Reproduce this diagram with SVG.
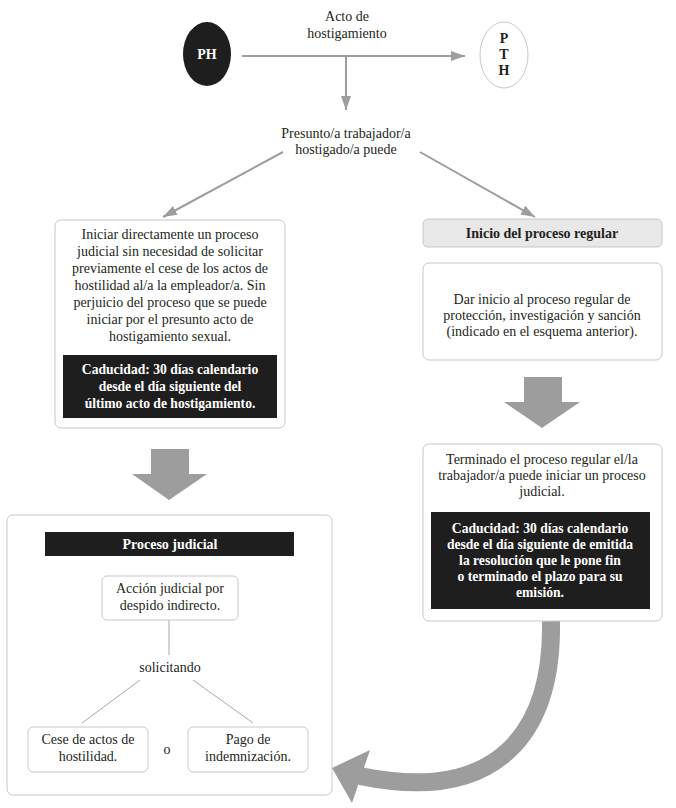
<svg xmlns="http://www.w3.org/2000/svg" width="676" height="808" viewBox="0 0 676 808">
<style>
text{font-family:"Liberation Serif","Times New Roman",serif;font-size:14px;fill:#231f20;text-anchor:middle}
.b{font-weight:bold}
.w{fill:#ffffff;font-weight:bold}
.cad{font-size:13.6px}
.box{fill:#ffffff;stroke:#c8c8c8;stroke-width:1}
.blk{fill:#1e1e1e}
.ln{stroke:#9d9d9d;stroke-width:2;fill:none}
.thin{stroke:#a8a8a8;stroke-width:1;fill:none}
.fat{fill:#9d9d9d}
</style>
<defs>
<marker id="ah2" markerWidth="14" markerHeight="10" refX="14" refY="5" orient="auto" markerUnits="userSpaceOnUse" viewBox="0 0 14 10">
<path d="M0,0 L14,5 L0,10 Z" fill="#9d9d9d"/>
</marker>
</defs>

<g id="proceso-judicial">
<rect class="box" x="7" y="515" width="325" height="280" rx="6"/>
<rect class="blk" x="45" y="532" width="249" height="24"/>
<text class="w" x="170" y="549">Proceso judicial</text>
</g>

<g id="connectors">
<line class="ln" x1="242" y1="56" x2="465" y2="56" marker-end="url(#ah2)"/>
<line class="ln" x1="346" y1="56" x2="346" y2="110" marker-end="url(#ah2)"/>
<line class="ln" x1="283" y1="152" x2="163" y2="217" marker-end="url(#ah2)"/>
<line class="ln" x1="420" y1="152" x2="535" y2="217" marker-end="url(#ah2)"/>
<polygon class="fat" points="524,377 562,377 562,402 580,402 542,428 504,402 524,402"/>
<polygon class="fat" points="151,449 189,449 189,474 207,474 169,500 132,474 151,474"/>
<path d="M551,621 C553,730 500,805 360,776" stroke="#9d9d9d" stroke-width="18" fill="none"/>
<polygon class="fat" points="370,750 332,768 352,803"/>
<line class="thin" x1="169" y1="620" x2="169" y2="655"/>
<line class="thin" x1="140" y1="680" x2="82" y2="723"/>
<line class="thin" x1="193" y1="680" x2="253" y2="723"/>
</g>

<g id="ph">
<ellipse cx="207" cy="54" rx="24" ry="32" fill="#1e1e1e"/>
<text class="w" x="207" y="59">PH</text>
</g>

<g id="label-acto">
<text x="347" y="21">Acto de</text>
<text x="347" y="38">hostigamiento</text>
</g>

<g id="pth">
<ellipse cx="504" cy="55" rx="24" ry="33" fill="#ffffff" stroke="#c8c8c8" stroke-width="1"/>
<text class="b" x="504" y="43">P</text>
<text class="b" x="504" y="59">T</text>
<text class="b" x="504" y="75">H</text>
</g>

<g id="presunto">
<text x="346" y="138">Presunto/a trabajador/a</text>
<text x="346" y="154">hostigado/a puede</text>
</g>

<g id="iniciar">
<rect class="box" x="55" y="220" width="230" height="208" rx="6"/>
<text x="170" y="239">Iniciar directamente un proceso</text>
<text x="170" y="256">judicial sin necesidad de solicitar</text>
<text x="170" y="273">previamente el cese de los actos de</text>
<text x="170" y="290">hostilidad al/a la empleador/a. Sin</text>
<text x="170" y="307">perjuicio del proceso que se puede</text>
<text x="170" y="324">iniciar por el presunto acto de</text>
<text x="170" y="341">hostigamiento sexual.</text>
<rect class="blk" x="63" y="355" width="214" height="63"/>
<text class="w cad" x="170" y="374">Caducidad: 30 días calendario</text>
<text class="w cad" x="170" y="391">desde el día siguiente del</text>
<text class="w cad" x="170" y="408">último acto de hostigamiento.</text>
</g>

<g id="inicio-regular">
<rect x="423" y="219" width="239" height="28" rx="5" fill="#e8e8e8" stroke="#c8c8c8" stroke-width="1"/>
<text class="b" x="542" y="238">Inicio del proceso regular</text>
</g>

<g id="dar-inicio">
<rect class="box" x="423" y="263" width="239" height="97" rx="6"/>
<text x="542" y="304">Dar inicio al proceso regular de</text>
<text x="542" y="320">protección, investigación y sanción</text>
<text x="542" y="336">(indicado en el esquema anterior).</text>
</g>

<g id="terminado">
<rect class="box" x="423" y="444" width="239" height="177" rx="6"/>
<text x="542" y="464">Terminado el proceso regular el/la</text>
<text x="542" y="480">trabajador/a puede iniciar un proceso</text>
<text x="542" y="496">judicial.</text>
<rect class="blk" x="431" y="512" width="219" height="97"/>
<text class="w cad" x="540" y="533">Caducidad: 30 días calendario</text>
<text class="w cad" x="540" y="549">desde el día siguiente de emitida</text>
<text class="w cad" x="540" y="565">la resolución que le pone fin</text>
<text class="w cad" x="540" y="581">o terminado el plazo para su</text>
<text class="w cad" x="540" y="597">emisión.</text>
</g>

<g id="accion">
<rect class="box" x="102" y="576" width="136" height="44" rx="5"/>
<text x="170" y="593">Acción judicial por</text>
<text x="170" y="610">despido indirecto.</text>
</g>

<g id="solicitando">
<text x="170" y="672">solicitando</text>
</g>

<g id="cese">
<rect class="box" x="28" y="727" width="120" height="45" rx="5"/>
<text x="88" y="744">Cese de actos de</text>
<text x="88" y="761">hostilidad.</text>
</g>

<g id="o">
<text x="167" y="754">o</text>
</g>

<g id="pago">
<rect class="box" x="188" y="727" width="120" height="45" rx="5"/>
<text x="248" y="744">Pago de</text>
<text x="248" y="761">indemnización.</text>
</g>
</svg>
